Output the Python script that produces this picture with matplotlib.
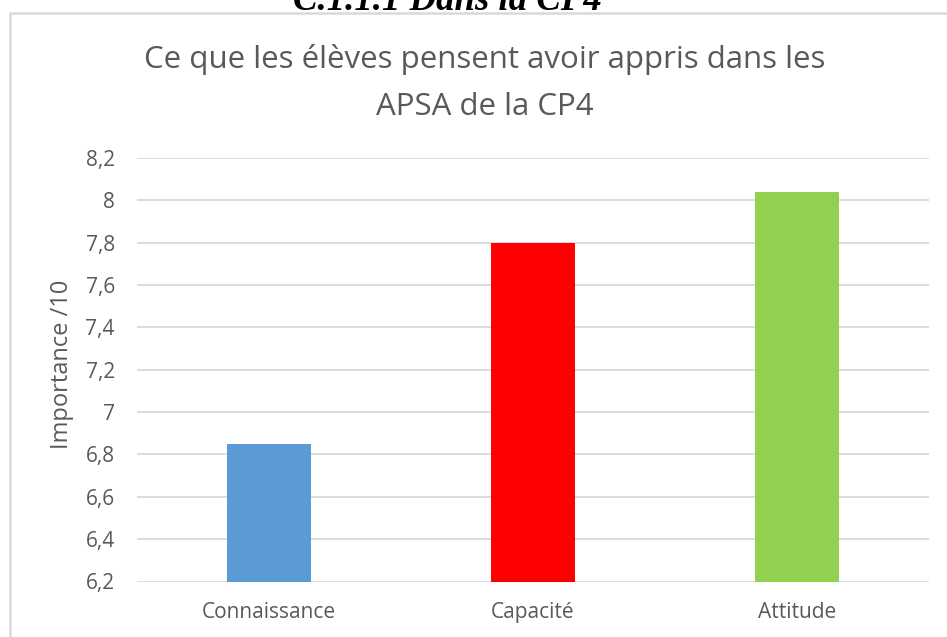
import matplotlib
matplotlib.use("Agg")
import matplotlib.pyplot as plt
from matplotlib.patches import Rectangle

categories = ["Connaissance", "Capacité", "Attitude"]
values = [6.85, 7.80, 8.04]
colors = ["#5B9BD5", "#FF0000", "#92D050"]
yticks = [6.2, 6.4, 6.6, 6.8, 7.0, 7.2, 7.4, 7.6, 7.8, 8.0, 8.2]
ytick_labels = ["6,2", "6,4", "6,6", "6,8", "7", "7,2", "7,4", "7,6", "7,8", "8", "8,2"]
title_lines = ["Ce que les élèves pensent avoir appris dans les", "APSA de la CP4"]
ylabel = "Importance /10"
heading = "C.1.1.1 Dans la CP4"

W, H = 947, 637
fig = plt.figure(figsize=(W / 100, H / 100), dpi=100)
fig.patch.set_facecolor("white")

font = "Open Sans"
gray = "#595959"
grid = "#D9D9D9"

# outer chart border
fig.patches.append(Rectangle((10 / W, -0.1), 1.2, (H - 13) / H + 0.1,
                             transform=fig.transFigure, fill=False,
                             edgecolor=grid, linewidth=1.8))

ax = fig.add_axes([137 / W, 1 - 581.5 / H, (929 - 137) / W, (581.5 - 158) / H])
x = range(len(categories))
ax.bar(x, values, width=0.315, color=colors, zorder=3)
ax.set_ylim(6.2, 8.2)
ax.set_xlim(-0.5, 2.5)
ax.set_yticks(yticks)
ax.set_yticklabels(ytick_labels, fontfamily=font, fontsize=15, color=gray)
ax.set_xticks(list(x))
ax.set_xticklabels(categories, fontfamily=font, fontsize=15, color=gray)
ax.tick_params(axis="both", length=0)
ax.tick_params(axis="y", pad=16)
ax.tick_params(axis="x", pad=15)
for s in ax.spines.values():
    s.set_visible(False)
ax.grid(axis="y", color=grid, linewidth=1.3, zorder=0)

fig.text(62 / W, 1 - 364.5 / H, ylabel, rotation=90, ha="center", va="center",
         fontfamily=font, fontsize=17, color=gray)

fig.text(485 / W, 1 - 68 / H, title_lines[0], ha="center", va="baseline",
         fontfamily=font, fontsize=22.5, color=gray)
fig.text(485 / W, 1 - 115 / H, title_lines[1], ha="center", va="baseline",
         fontfamily=font, fontsize=22.5, color=gray)

fig.text(447 / W, 1 - 10 / H, heading, ha="center", va="baseline",
         fontfamily="Liberation Serif", fontweight="bold", fontstyle="italic",
         fontsize=26.5, color="black")

fig.savefig("out.png", dpi=100, facecolor="white")
